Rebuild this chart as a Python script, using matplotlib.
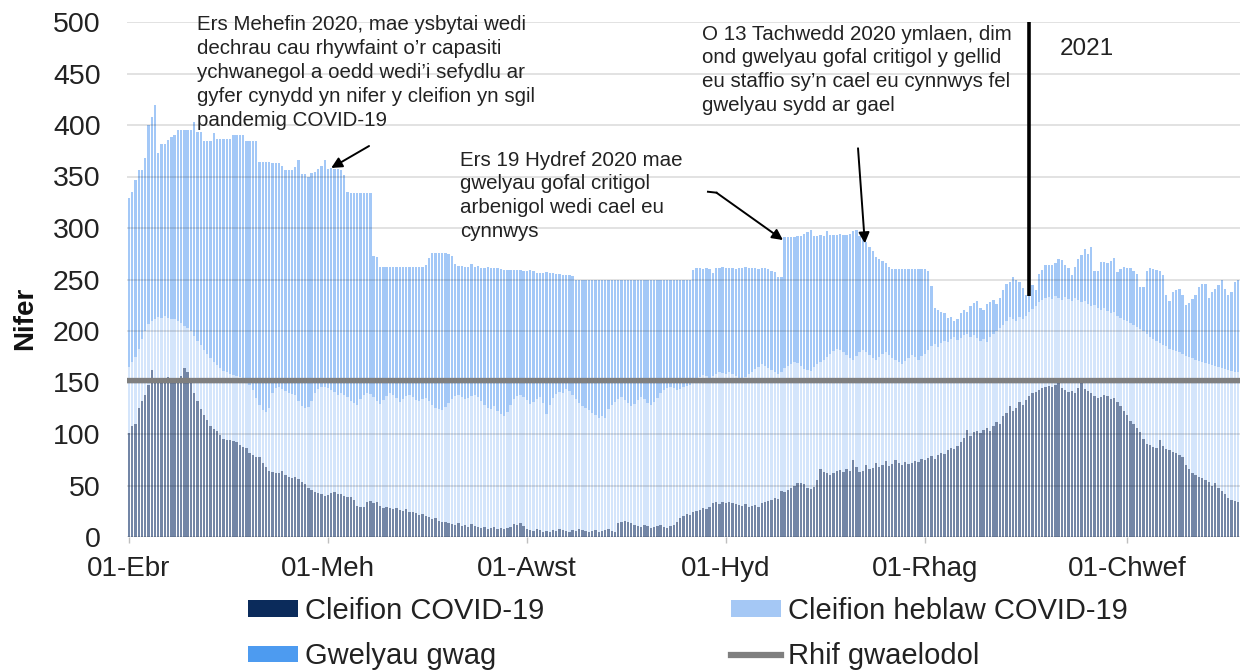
import matplotlib
matplotlib.use('Agg')
import matplotlib.pyplot as plt
from matplotlib.patches import Patch
from matplotlib.lines import Line2D
import numpy as np

plt.rcParams['font.family'] = ['Liberation Sans', 'DejaVu Sans']

# Daily values, day 0 = 01-Apr-2020 ... day 340 = 07-Mar-2021
covid = [
    # Ebr
    101,108,110,125,132,138,148,162,152,153, 154,152,155,153,152,151,156,164,160,150, 140,132,124,118,114,108,105,103,99,95,
    # Mai
    94,94,93,92,89,87,86,82,80,78, 78,72,68,64,63,62,62,64,60,58, 57,58,56,53,51,48,46,44,43,42, 40,
    # Meh
    41,43,44,42,42,40,39,39,36,30, 29,29,34,35,33,34,30,28,29,28, 27,28,26,25,27,24,24,23,21,22,
    # Gorff
    20,19,17,18,16,15,15,14,13,12, 14,11,12,10,13,11,10,9,10,8, 9,10,8,9,8,9,10,13,12,14, 11,
    # Awst
    8,7,6,8,7,5,6,5,7,6, 8,7,6,5,7,6,8,7,6,5, 6,7,5,6,7,8,6,5,14,15, 16,
    # Medi
    15,14,12,11,10,12,11,9,10,11, 12,10,9,11,12,15,18,20,22,21, 24,25,26,28,27,29,33,34,32,34,
    # Hyd
    33,34,33,32,31,30,32,29,30,31, 29,33,34,35,36,38,37,45,44,46, 48,50,52,52,51,48,47,49,55,66, 63,
    # Tach
    62,60,62,64,65,63,66,64,75,68, 63,64,70,66,67,72,68,70,74,69, 71,75,72,70,73,71,72,74,73,76,
    # Rhag
    75,77,79,76,80,82,81,84,86,85, 88,92,96,104,98,102,103,101,104,106, 103,108,112,110,117,120,127,122,125,131, 128,
    # Ion
    133,137,140,141,143,145,146,147,146,148, 150,145,143,141,142,140,145,150,144,142, 140,137,135,136,138,137,134,135,131,127, 122,
    # Chwef + Maw
    118,113,110,106,102,95,90,89,87,86, 94,88,85,84,83,82,80,78,70,66, 62,60,58,57,55,53,50,52,48,45, 42,38,36,35,34,
]

noncovid = [
    64,62,65,58,60,62,59,48,60,61, 59,63,58,59,60,59,52,41,43,50, 55,58,62,64,64,66,65,64,65,66,
    66,64,64,64,66,67,66,66,63,57, 50,51,53,61,77,83,84,80,82,82, 82,80,76,74,74,78,86,96,101,104, 106,
    104,100,97,96,98,98,97,93,94,98, 105,109,106,104,103,98,99,105,108,112, 111,107,105,109,110,114,112,110,111,112,
    115,113,111,107,108,108,111,116,121,125, 124,125,122,125,124,127,126,123,118,117, 115,117,114,110,109,112,118,121,125,124, 125,
    125,122,125,126,129,125,113,123,128,133, 133,133,138,137,131,128,122,120,119,118, 114,111,111,111,109,116,122,126,120,121, 117,
    115,113,117,122,126,122,119,119,121,124, 128,133,136,135,133,128,126,126,125,127, 126,128,129,129,129,125,123,124,128,125,
    125,126,125,124,122,122,123,129,130,132, 136,135,132,129,126,122,121,115,120,120, 120,120,117,114,112,114,114,116,113,104, 109,
    113,118,119,119,117,117,111,110,97,108, 117,118,110,111,107,100,107,108,106,108, 103,97,98,98,98,103,105,101,99,100,
    103,105,106,111,104,106,109,105,106,109, 103,101,100,93,96,94,90,89,88,83, 91,89,88,93,89,90,87,90,85,83, 84,
    82,81,81,83,85,85,86,86,85,86, 82,85,90,90,87,92,85,78,85,84, 84,88,87,84,84,82,83,83,84,86, 89,
    92,95,96,98,100,105,107,105,105,104, 94,98,100,99,99,99,100,100,106,109, 112,112,113,113,114,115,117,114,117,119, 121,124,125,125,126,
]

empty = [
    164,165,172,173,164,168,193,198,207,159, 169,167,172,176,178,185,187,190,192,195, 208,203,207,202,206,210,222,219,222,225,
    226,228,233,234,235,236,232,236,241,249, 236,241,243,239,223,218,217,216,214,216, 217,221,234,225,227,224,221,214,213,214, 220,
    212,215,216,219,216,213,199,202,204,206, 200,196,194,195,137,140,133,129,125,122, 124,127,131,128,125,124,126,129,130,128,
    129,139,148,151,152,153,150,145,139,128, 125,127,128,127,128,124,127,129,133,137, 137,134,139,141,142,138,131,125,122,121, 122,
    125,130,127,122,120,126,138,128,121,116, 114,114,110,112,115,116,120,123,125,127, 130,132,134,133,134,126,122,119,116,114, 117,
    120,123,121,117,114,116,120,122,119,115, 110,107,105,104,105,107,106,104,103,102, 109,108,106,103,105,106,100,103,101,103,
    103,101,103,104,108,109,107,103,101,98, 95,93,95,96,96,97,94,92,127,125, 123,121,123,126,131,134,137,127,124,123, 120,
    122,115,112,110,112,113,116,120,125,122, 112,108,106,105,104,100,95,90,86,85, 86,88,90,92,89,86,83,85,88,84,
    82,76,59,35,36,30,27,24,22,16, 21,24,24,21,30,31,36,32,28,37, 34,33,26,29,34,36,34,40,40,34, 30,
    20,25,24,16,27,29,32,31,33,32, 38,39,31,30,25,30,40,46,51,49, 58,33,36,47,45,47,51,53,42,47, 51,
    51,53,52,51,41,43,61,67,68,69, 70,68,50,46,56,59,61,57,49,52, 57,63,72,76,77,64,71,75,80,86, 78,73,77,88,90,
]

baseline_value = 152
tick_days = [0, 61, 122, 183, 244, 306]
tick_labels = ["01-Ebr", "01-Meh", "01-Awst", "01-Hyd", "01-Rhag", "01-Chwef"]
y_ticks = list(range(0, 501, 50))

labels = ["Cleifion COVID-19", "Gwelyau gwag", "Cleifion heblaw COVID-19", "Rhif gwaelodol"]

n = min(len(covid), len(noncovid), len(empty))
covid = np.array(covid[:n], dtype=float)
noncovid = np.array(noncovid[:n], dtype=float)
empty = np.array(empty[:n], dtype=float)
days = np.arange(n)

W, H = 1242, 672
fig = plt.figure(figsize=(W / 100, H / 100), dpi=100)
ax = fig.add_axes([127 / W, 1 - 537 / H, (1240 - 127) / W, (537 - 22) / H])

col_covid_bar = '#7386a6'
col_non_bar = '#d4e5fb'
col_empty_bar = '#a3c8f7'
bw = 0.72
ax.bar(days, covid, width=bw, color=col_covid_bar, linewidth=0, zorder=2)
ax.bar(days, noncovid, width=bw, bottom=covid, color=col_non_bar, linewidth=0, zorder=2)
ax.bar(days, empty, width=bw, bottom=covid + noncovid, color=col_empty_bar, linewidth=0, zorder=2)

for yv in y_ticks:
    ax.axhline(yv, color='black', alpha=0.15, lw=1.1, zorder=3)
ax.axhline(baseline_value, color='#7f7f7f', lw=3.8, zorder=4)

ax.set_xlim(-0.6, n - 0.4)
ax.set_ylim(0, 500)
for s in ax.spines.values():
    s.set_visible(False)
ax.set_xticks(tick_days)
ax.set_xticklabels(tick_labels)
ax.set_yticks(y_ticks)
ax.tick_params(axis='x', direction='out', length=4.5, width=1, color='#bfbfbf', pad=9,
               labelsize=20, labelcolor='#222222')
ax.tick_params(axis='y', length=0, pad=19, labelsize=20.5, labelcolor='#222222')

fig.text(25 / W, 1 - 318 / H, 'Nifer', rotation=90, ha='center', va='center',
         fontsize=20, fontweight='bold', color='#111111')

# 2021 divider
ax.plot([275.8, 275.8], [500, 234], color='black', lw=2.6, zorder=6, solid_capstyle='butt')
ax.text(285.2, 468, '2021', fontsize=17.5, color='#222222', ha='left', va='baseline')

txt_kw = dict(fontsize=14.8, color='#222222', ha='left', va='top', linespacing=1.33)
fig.text(197 / W, 1 - 15.5 / H,
         "Ers Mehefin 2020, mae ysbytai wedi\ndechrau cau rhywfaint o\u2019r capasiti\n"
         "ychwanegol a oedd wedi\u2019i sefydlu ar\ngyfer cynydd yn nifer y cleifion yn sgil\n"
         "pandemig COVID-19", **txt_kw)
fig.text(460 / W, 1 - 150.5 / H,
         "Ers 19 Hydref 2020 mae\ngwelyau gofal critigol\narbenigol wedi cael eu\ncynnwys", **txt_kw)
fig.text(702 / W, 1 - 24.5 / H,
         "O 13 Tachwedd 2020 ymlaen, dim\nond gwelyau gofal critigol y gellid\n"
         "eu staffio sy\u2019n cael eu cynnwys fel\ngwelyau sydd ar gael", **txt_kw)

arrow_kw = dict(arrowstyle='-|>', color='black', lw=1.4, mutation_scale=16, shrinkA=0, shrinkB=0)
ax.annotate('', xy=(62.0, 358.3), xytext=(73.6, 379.6), arrowprops=arrow_kw, zorder=7)
ax.plot([177.5, 180.1], [335.2, 334.3], color='black', lw=1.4, zorder=7)
ax.annotate('', xy=(200.5, 288.3), xytext=(180.1, 334.3), arrowprops=arrow_kw, zorder=7)
ax.annotate('', xy=(225.6, 285.1), xytext=(223.5, 377.4), arrowprops=arrow_kw, zorder=7)

handles = [Patch(facecolor='#0b2b5b', edgecolor='none'),
           Patch(facecolor='#4d9bf0', edgecolor='none'),
           Patch(facecolor='#a5c8f5', edgecolor='none'),
           Line2D([0], [0], color='#7f7f7f', lw=4.5)]
fig.legend(handles, labels, ncol=2, loc='upper left', bbox_to_anchor=(248 / W, 1 - 597 / H),
           frameon=False, fontsize=21, handlelength=1.72, handleheight=0.5, handletextpad=0.25,
           columnspacing=6.37, labelspacing=0.6, borderpad=0, borderaxespad=0,
           labelcolor='#222222')

fig.savefig('out.png', dpi=100)
